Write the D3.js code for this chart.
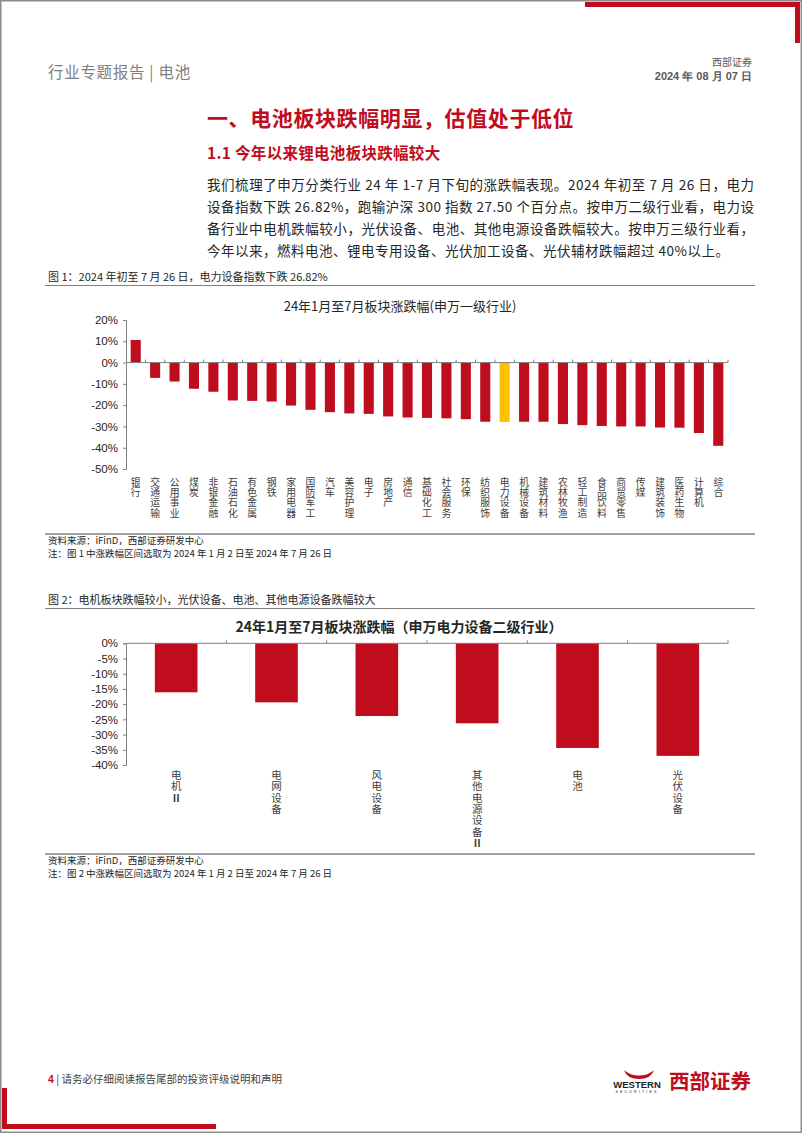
<!DOCTYPE html>
<html lang="zh">
<head>
<meta charset="UTF-8">
<title>电池 行业专题报告</title>
<script src="https://d3js.org/d3.v7.min.js"></script>
<style>
  body { margin: 0; background: #fff; }
  svg { display: block; }
  .cjk { font-family: "Noto Sans CJK SC", sans-serif; }
  .num { font-family: "Liberation Sans", Arial, sans-serif; }
</style>
</head>
<body>
<div id="page"></div>
<script>
// chart 1: 申万一级行业
const cats1 = ["银行","交通运输","公用事业","煤炭","非银金融","石油石化","有色金属","钢铁","家用电器","国防军工",
  "汽车","美容护理","电子","房地产","通信","基础化工","社会服务","环保","纺织服饰","电力设备",
  "机械设备","建筑材料","农林牧渔","轻工制造","食品饮料","商贸零售","传媒","建筑装饰","医药生物","计算机","综合"];
const vals1 = [10.6,-7.2,-8.9,-12.3,-13.7,-17.8,-18.0,-18.3,-20.2,-22.2,
  -23.3,-23.9,-24.1,-25.3,-25.8,-26.0,-26.2,-26.6,-27.8,-27.9,
  -27.8,-27.8,-28.9,-29.4,-29.8,-30.0,-30.0,-30.5,-30.6,-33.1,-39.1];
const ticks1 = [20,10,0,-10,-20,-30,-40,-50];
const highlight1 = "电力设备";

// chart 2: 申万电力设备二级行业
const cats2 = ["电机Ⅱ","电网设备","风电设备","其他电源设备Ⅱ","电池","光伏设备"];
const vals2 = [-16.1,-19.4,-23.9,-26.3,-34.4,-37.0];
const ticks2 = [0,-5,-10,-15,-20,-25,-30,-35,-40];

const para = [
  "我们梳理了申万分类行业 24 年 1-7 月下旬的涨跌幅表现。2024 年初至 7 月 26 日，电力",
  "设备指数下跌 26.82%，跑输沪深 300 指数 27.50 个百分点。按申万二级行业看，电力设",
  "备行业中电机跌幅较小，光伏设备、电池、其他电源设备跌幅较大。按申万三级行业看，",
  "今年以来，燃料电池、锂电专用设备、光伏加工设备、光伏辅材跌幅超过 40%以上。"
];

const W = 802, H = 1133;
const RED = "#c00d1e", YEL = "#ffc000", GREY = "#808080";

const svg = d3.select("#page").append("svg")
  .attr("width", W).attr("height", H);

// page frame and decorations
svg.append("rect").attr("x", 0.75).attr("y", 0.75).attr("width", W - 1.5).attr("height", H - 1.5)
  .attr("fill", "none").attr("stroke", "#8c8c8c").attr("stroke-width", 1.5);
svg.append("path").attr("d", "M585,4.5H797.5V43")
  .attr("fill", "none").attr("stroke", RED).attr("stroke-width", 5);
svg.append("path").attr("d", "M4.5,1088V1126.5H216")
  .attr("fill", "none").attr("stroke", RED).attr("stroke-width", 5);

// header
svg.append("text").attr("class", "cjk").attr("x", 48).attr("y", 78)
  .attr("font-size", 15.5).attr("letter-spacing", 0.7).attr("fill", GREY).text("行业专题报告 | 电池");
svg.append("text").attr("class", "cjk").attr("x", 752).attr("y", 65.5)
  .attr("text-anchor", "end").attr("font-size", 10).attr("fill", "#595959").text("西部证券");
svg.append("text").attr("class", "num").attr("x", 752).attr("y", 80)
  .attr("text-anchor", "end").attr("font-size", 11).attr("font-weight", "bold").attr("fill", "#595959")
  .text("2024 年 08 月 07 日");

// headings
svg.append("text").attr("class", "cjk").attr("x", 207).attr("y", 126)
  .attr("font-size", 21).attr("letter-spacing", 0.6).attr("font-weight", "bold").attr("fill", RED)
  .text("一、电池板块跌幅明显，估值处于低位");
svg.append("text").attr("class", "cjk").attr("x", 207).attr("y", 159)
  .attr("font-size", 15.5).attr("letter-spacing", 0.3).attr("font-weight", "bold").attr("fill", RED)
  .text("1.1 今年以来锂电池板块跌幅较大");

// paragraph
para.forEach((line, i) => {
  const t = svg.append("text").attr("class", "cjk")
    .attr("x", 207).attr("y", 190 + i * 22)
    .attr("font-size", 13.5).attr("fill", "#262626").text(line);
  if (i < 3) t.attr("textLength", 547).attr("lengthAdjust", "spacing");
  else t.attr("letter-spacing", 0.5);
});

function caption(y, txt) {
  svg.append("text").attr("class", "cjk").attr("x", 48).attr("y", y)
    .attr("font-size", 11).attr("fill", "#262626").text(txt);
  svg.append("line").attr("x1", 45).attr("x2", 755).attr("y1", y + 4.5).attr("y2", y + 4.5)
    .attr("stroke", GREY).attr("stroke-width", 1.2);
}
function sourceNote(y, n) {
  svg.append("line").attr("x1", 45).attr("x2", 755).attr("y1", y).attr("y2", y)
    .attr("stroke", GREY).attr("stroke-width", 1.5);
  svg.append("text").attr("class", "cjk").attr("x", 48).attr("y", y + 10)
    .attr("font-size", 9.5).attr("fill", "#262626").text("资料来源：iFinD，西部证券研发中心");
  svg.append("text").attr("class", "cjk").attr("x", 48).attr("y", y + 23)
    .attr("font-size", 9.5).attr("fill", "#262626")
    .text(`注：图 ${n} 中涨跌幅区间选取为 2024 年 1 月 2 日至 2024 年 7 月 26 日`);
}

function barChart(opt) {
  const x = d3.scaleBand().domain(opt.cats).range([126, 728]).paddingInner(opt.pad).paddingOuter(opt.pad / 2);
  const y = d3.scaleLinear().domain(opt.domain).range(opt.yRange);
  const g = svg.append("g");

  g.append("text").attr("class", "cjk").attr("x", opt.titleX).attr("y", opt.titleY)
    .attr("text-anchor", "middle").attr("font-size", opt.titleSize).attr("font-weight", opt.titleWeight)
    .attr("fill", "#262626").text(opt.title);

  // bars
  g.selectAll("rect.bar").data(opt.cats).join("rect").attr("class", "bar")
    .attr("x", d => x(d))
    .attr("width", x.bandwidth())
    .attr("y", (d, i) => y(Math.max(0, opt.vals[i])))
    .attr("height", (d, i) => Math.abs(y(opt.vals[i]) - y(0)))
    .attr("fill", d => d === opt.highlight ? YEL : RED);

  // y axis
  const ya = g.append("g").attr("transform", "translate(126,0)")
    .call(d3.axisLeft(y).tickValues(opt.ticks).tickSize(3).tickPadding(5).tickFormat(d => d + "%"));
  ya.select(".domain").attr("stroke", GREY);
  ya.selectAll(".tick line").attr("stroke", GREY);
  ya.selectAll("text").attr("class", "num").attr("font-size", 11.5).attr("fill", "#262626");

  // zero line with category boundary ticks
  const y0 = y(0);
  g.append("line").attr("x1", 126).attr("x2", 728).attr("y1", y0).attr("y2", y0)
    .attr("stroke", GREY).attr("stroke-width", 1);
  const bounds = opt.cats.map(d => x(d) - x.step() * opt.pad / 2).concat([728]);
  g.selectAll("line.bt").data(bounds.slice(1)).join("line").attr("class", "bt")
    .attr("x1", d => d).attr("x2", d => d).attr("y1", y0).attr("y2", y0 - 3)
    .attr("stroke", GREY);

  // vertical category labels, one character per line
  const lab = g.selectAll("text.cat").data(opt.cats).join("text").attr("class", "cjk cat")
    .attr("font-size", opt.labSize).attr("fill", "#404040").attr("text-anchor", "middle");
  lab.each(function (d) {
    const t = d3.select(this);
    const cx = x(d) + x.bandwidth() / 2;
    Array.from(d).forEach((ch, k) => {
      t.append("tspan").attr("x", cx).attr("y", opt.labY + k * opt.labStep)
        .attr("font-weight", ch === "Ⅱ" ? "bold" : null).text(ch);
    });
  });
}

// figure 1
caption(281, "图 1：2024 年初至 7 月 26 日，电力设备指数下跌 26.82%");
barChart({
  cats: cats1, vals: vals1, ticks: ticks1, highlight: highlight1,
  domain: [-50, 20], yRange: [469, 320], pad: 0.48,
  title: "24年1月至7月板块涨跌幅(申万一级行业)", titleX: 400, titleY: 311, titleSize: 13, titleWeight: "normal",
  labSize: 9.8, labY: 485.5, labStep: 10.4
});
sourceNote(534, 1);

// figure 2
caption(604, "图 2：电机板块跌幅较小，光伏设备、电池、其他电源设备跌幅较大");
barChart({
  cats: cats2, vals: vals2, ticks: ticks2, highlight: null,
  domain: [-40, 0], yRange: [765, 643.3], pad: 0.575,
  title: "24年1月至7月板块涨跌幅（申万电力设备二级行业）", titleX: 399, titleY: 631.5, titleSize: 14, titleWeight: "bold",
  labSize: 10.5, labY: 779, labStep: 11.3
});
sourceNote(854, 2);

// footer
const ft = svg.append("text").attr("class", "cjk").attr("x", 48).attr("y", 1083).attr("font-size", 10.5).attr("fill", "#404040");
ft.append("tspan").attr("class", "num").attr("font-weight", "bold").attr("fill", RED).text("4");
ft.append("tspan").text(" | 请务必仔细阅读报告尾部的投资评级说明和声明");

// logo
svg.append("path").attr("d", "M624,1070 Q627,1079 639,1079 Q651,1079 654,1070 Q648,1075.5 639,1075.5 Q630,1075.5 624,1070 Z")
  .attr("fill", RED);
svg.append("text").attr("class", "num").attr("x", 637).attr("y", 1088).attr("text-anchor", "middle")
  .attr("font-size", 9.5).attr("font-weight", "bold").attr("fill", "#222").text("WESTERN");
svg.append("text").attr("class", "num").attr("x", 637).attr("y", 1092.5).attr("text-anchor", "middle")
  .attr("font-size", 3.5).attr("letter-spacing", 2.2).attr("fill", "#222").text("SECURITIES");
svg.append("text").attr("class", "cjk").attr("x", 669).attr("y", 1089).attr("font-size", 20.5)
  .attr("font-weight", "bold").attr("fill", RED).text("西部证券");
</script>
</body>
</html>
